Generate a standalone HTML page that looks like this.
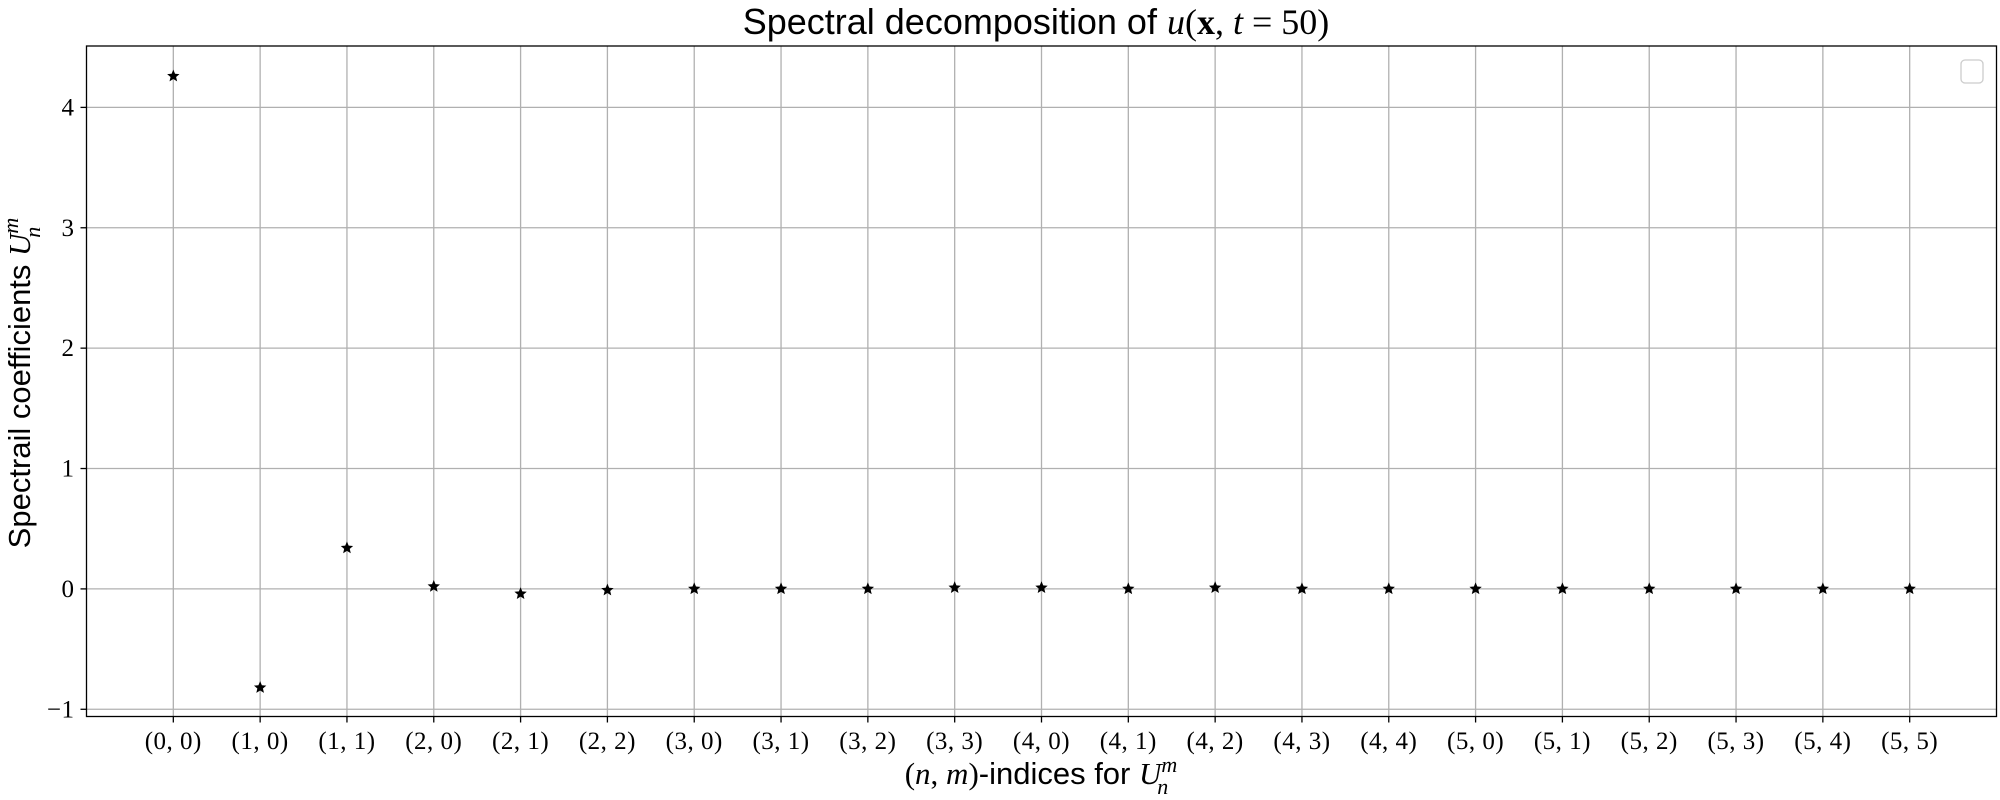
<!DOCTYPE html>
<html><head><meta charset="utf-8"><style>
body{margin:0;background:#fff;}
svg{display:block;}
.tick{font-family:"Liberation Serif",serif;font-size:25px;fill:#000;letter-spacing:0.5px;}
.lab{font-family:"Liberation Sans",sans-serif;fill:#000;}
</style></head><body>
<svg id="chart" width="2000" height="800" viewBox="0 0 2000 800">
<text class="lab" x="1036" y="34" text-anchor="middle" font-size="36">Spectral decomposition of <tspan font-family="Liberation Serif" font-style="italic">u</tspan><tspan font-family="Liberation Serif">(</tspan><tspan font-family="Liberation Serif" font-weight="bold">x</tspan><tspan font-family="Liberation Serif">, </tspan><tspan font-family="Liberation Serif" font-style="italic">t</tspan><tspan font-family="Liberation Serif"> = 50)</tspan></text>
<g id="grid"></g>
<g id="ticks"></g>
<g id="marks"></g>
<rect x="86.5" y="46" width="1910" height="670.5" fill="none" stroke="#000" stroke-width="1.3"/>
<rect x="1961" y="60" width="22" height="23" rx="4" fill="#fff" stroke="#ccc" stroke-width="1.3"/>
<text class="lab" x="1041" y="784" text-anchor="middle" font-size="31"><tspan font-family="Liberation Serif">(</tspan><tspan font-family="Liberation Serif" font-style="italic">n</tspan><tspan font-family="Liberation Serif">, </tspan><tspan font-family="Liberation Serif" font-style="italic">m</tspan><tspan font-family="Liberation Serif">)</tspan>-indices for <tspan font-family="Liberation Serif" font-style="italic">U</tspan><tspan font-family="Liberation Serif" font-style="italic" font-size="22" dy="-12">m</tspan><tspan font-family="Liberation Serif" font-style="italic" font-size="22" dx="-20" dy="22">n</tspan></text>
<text class="lab" transform="translate(30,383) rotate(-90)" text-anchor="middle" font-size="31">Spectrail coefficients <tspan font-family="Liberation Serif" font-style="italic">U</tspan><tspan font-family="Liberation Serif" font-style="italic" font-size="22" dy="-12">m</tspan><tspan font-family="Liberation Serif" font-style="italic" font-size="22" dx="-20" dy="22">n</tspan></text>
</svg>
<script>
const categories=["(0,0)","(1,0)","(1,1)","(2,0)","(2,1)","(2,2)","(3,0)","(3,1)","(3,2)","(3,3)","(4,0)","(4,1)","(4,2)","(4,3)","(4,4)","(5,0)","(5,1)","(5,2)","(5,3)","(5,4)","(5,5)"];
const coefficients=[4.26,-0.82,0.34,0.02,-0.04,-0.01,0.0,0.0,0.0,0.01,0.01,0.0,0.01,0.0,0.0,0.0,0.0,0.0,0.0,0.0,0.0];
const yTicks=[-1,0,1,2,3,4];
const yTickLabels=["\u22121","0","1","2","3","4"];
const NS="http://www.w3.org/2000/svg";
const L=86.5,R=1996.5,T=46,B=716.5;
const xMin=-1,xMax=categories.length,yMin=-1.06,yMax=4.51;
function xs(i){return L+(i-xMin)/(xMax-xMin)*(R-L);}
function ys(v){return B-(v-yMin)/(yMax-yMin)*(B-T);}
function mk(tag,attrs,parent){const e=document.createElementNS(NS,tag);for(const k in attrs)e.setAttribute(k,attrs[k]);document.getElementById(parent).appendChild(e);return e;}
categories.forEach((c,i)=>{
  const x=xs(i);
  const g=mk('line',{x1:x,x2:x,y1:T,y2:B,stroke:'#b0b0b0','stroke-width':1.3},'grid');
  
  
  const t=mk('line',{x1:x,x2:x,y1:B,y2:B+6,stroke:'#000','stroke-width':1.3},'ticks');
  
  
  const lb=mk('text',{x:x,y:749,'text-anchor':'middle',class:'tick'},'ticks');
  lb.textContent=c.replace(',',', ');
  
  
});
yTicks.forEach((v,i)=>{
  const y=ys(v);
  const g=mk('line',{x1:L,x2:R,y1:y,y2:y,stroke:'#b0b0b0','stroke-width':1.3},'grid');
  
  
  const t=mk('line',{x1:L-6,x2:L,y1:y,y2:y,stroke:'#000','stroke-width':1.3},'ticks');
  
  
  const lb=mk('text',{x:L-12,y:y+8,'text-anchor':'end',class:'tick'},'ticks');
  lb.textContent=yTickLabels[i];
  
  
});
function star(cx,cy,r){let p=[];for(let k=0;k<10;k++){const a=-Math.PI/2+k*Math.PI/5;const rr=k%2?r*0.45:r;p.push((cx+rr*Math.cos(a)).toFixed(2)+','+(cy+rr*Math.sin(a)).toFixed(2));}return p.join(' ');}
coefficients.forEach((v,i)=>{
  const s=mk('polygon',{points:star(xs(i),ys(v),6.5),fill:'#000'},'marks');
  
  
});
</script>
</body></html>
